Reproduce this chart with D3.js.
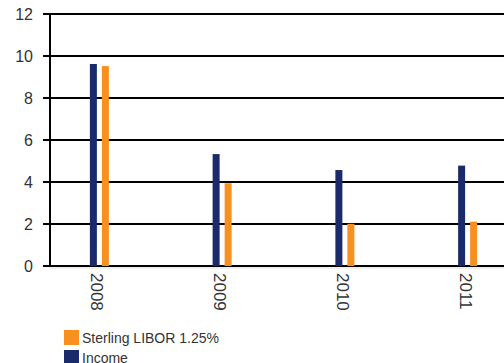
<!DOCTYPE html>
<html>
<head>
<meta charset="utf-8">
<script src="https://cdn.jsdelivr.net/npm/d3@7"></script>
<style>
  html, body { margin: 0; padding: 0; background: #fff; }
  svg { display: block; font-family: "Liberation Sans", Arial, sans-serif; }
</style>
</head>
<body>
<svg id="chart" width="504" height="363"></svg>
<script>
// Annual figures (%)
const years = ["2008", "2009", "2010", "2011"];
const seriesNames = ["Income", "Sterling LIBOR 1.25%"];
const income = [9.62, 5.33, 4.57, 4.78];
const libor = [9.52, 3.94, 2.01, 2.11];
const yTicks = [0, 2, 4, 6, 8, 10, 12];
const legendOrder = ["Sterling LIBOR 1.25%", "Income"];

const colors = { "Income": "#1b2a6b", "Sterling LIBOR 1.25%": "#f7901e" };
const values = { "Income": income, "Sterling LIBOR 1.25%": libor };

const svg = d3.select("#chart");

const y = d3.scaleLinear().domain([0, 12]).range([266, 14]);
const x = d3.scaleBand().domain(years).range([38, 529]).padding(0);
const inner = d3.scaleBand().domain(seriesNames).range([-9.5, 9.5])
  .paddingInner(5 / 12).paddingOuter(0);

// horizontal gridlines with tick stubs
svg.append("g").selectAll("line").data(yTicks).join("line")
  .attr("x1", 43).attr("x2", 504)
  .attr("y1", d => y(d)).attr("y2", d => y(d))
  .attr("stroke", "#000").attr("stroke-width", 2);

// faint shadow under the baseline
svg.append("line")
  .attr("x1", 50).attr("x2", 504)
  .attr("y1", y(0) + 2).attr("y2", y(0) + 2)
  .attr("stroke", "#ddd").attr("stroke-width", 1);

// y axis line
svg.append("line")
  .attr("x1", 50).attr("x2", 50)
  .attr("y1", y(12) - 1).attr("y2", y(0) + 1)
  .attr("stroke", "#000").attr("stroke-width", 2);

// y tick labels
svg.append("g").selectAll("text").data(yTicks).join("text")
  .attr("x", 33).attr("y", d => y(d))
  .attr("text-anchor", "end").attr("dominant-baseline", "central")
  .attr("font-size", 16).attr("fill", "#333")
  .text(d => d);

// bars
const groups = svg.append("g").selectAll("g").data(years).join("g")
  .attr("transform", d => `translate(${x(d) + x.bandwidth() / 2},0)`);

groups.selectAll("rect")
  .data((d, i) => seriesNames.map(s => ({ s, v: values[s][i] })))
  .join("rect")
  .attr("x", d => inner(d.s))
  .attr("width", inner.bandwidth())
  .attr("y", d => y(d.v))
  .attr("height", d => y(0) - y(d.v))
  .attr("fill", d => colors[d.s]);

// rotated year labels
svg.append("g").selectAll("text").data(years).join("text")
  .attr("transform", d => `translate(${x(d) + x.bandwidth() / 2 - 2.5},273) rotate(90)`)
  .attr("text-anchor", "start").attr("dominant-baseline", "central")
  .attr("font-size", 17).attr("fill", "#333")
  .text(d => d);

// legend
const legend = svg.append("g").selectAll("g").data(legendOrder).join("g")
  .attr("transform", (d, i) => `translate(64,${330 + i * 20})`);
legend.append("rect").attr("width", 15).attr("height", 15)
  .attr("fill", d => colors[d]);
legend.append("text").attr("x", 18).attr("y", 13)
  .attr("font-size", 14).attr("fill", "#333")
  .text(d => d);
</script>
</body>
</html>
